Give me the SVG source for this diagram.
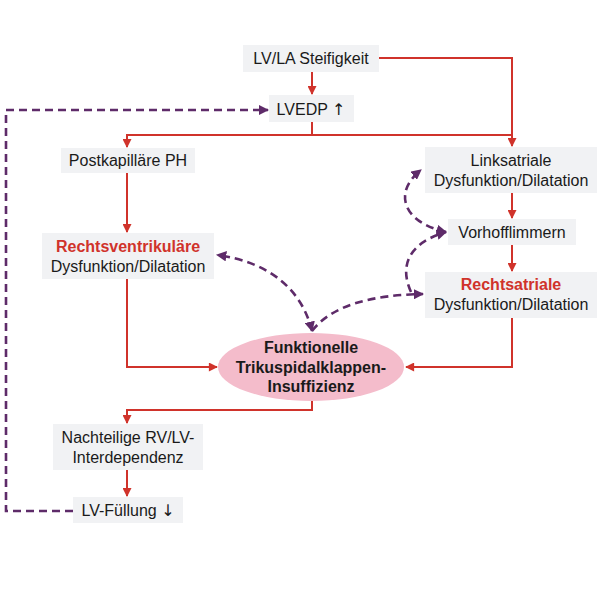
<svg xmlns="http://www.w3.org/2000/svg" width="600" height="600" viewBox="0 0 600 600">
<defs>
<style>
.box{fill:#f1f2f4;}
.t{font-family:"Liberation Sans",Arial,sans-serif;font-size:16px;fill:#1a1a1a;text-anchor:middle;}
.b{font-weight:bold;}
.r{fill:#d0332b;}
.arw{font-family:"DejaVu Sans",sans-serif;font-size:16px;fill:#1a1a1a;}
.red{fill:none;stroke:#d0332b;stroke-width:2;}
.pur{fill:none;stroke:#5e2b69;stroke-width:2.6;stroke-dasharray:8 5;}
</style>
<marker id="ar" viewBox="0 0 10 10" refX="9" refY="5" markerWidth="5" markerHeight="4.5" orient="auto-start-reverse" markerUnits="strokeWidth">
<path d="M0,0 L10,5 L0,10 z" fill="#d0332b"/>
</marker>
<marker id="ap" viewBox="0 0 10 10" refX="9" refY="5" markerWidth="4" markerHeight="4" orient="auto-start-reverse" markerUnits="strokeWidth">
<path d="M0,0 L10,5 L0,10 z" fill="#5e2b69"/>
</marker>
</defs>
<rect width="600" height="600" fill="#ffffff"/>
<g id="connectors">
<path class="red" d="M379,58 H512 V146" marker-end="url(#ar)"/>
<path class="red" d="M312,72 V94" marker-end="url(#ar)"/>
<path class="red" d="M312,122 V135 H127 V147" marker-end="url(#ar)"/>
<path class="red" d="M312,135 H512"/>
<path class="red" d="M127,172 V232" marker-end="url(#ar)"/>
<path class="red" d="M127,279 V367 H217" marker-end="url(#ar)"/>
<path class="red" d="M512,318 V367 H406" marker-end="url(#ar)"/>
<path class="red" d="M512,193 V218" marker-end="url(#ar)"/>
<path class="red" d="M512,245 V271" marker-end="url(#ar)"/>
<path class="red" d="M312,401 V410 H127 V423" marker-end="url(#ar)"/>
<path class="red" d="M127,470 V496" marker-end="url(#ar)"/>
<path class="pur" d="M73,511 H6 V110 H268" marker-end="url(#ap)"/>
<path class="pur" d="M312,331 C302,290 270,262 217,255" marker-start="url(#ap)" marker-end="url(#ap)"/>
<path class="pur" d="M312,331 C332,305 372,295 423,294" marker-end="url(#ap)"/>
<path class="pur" d="M446,232 C402,222 393,192 421,170" marker-start="url(#ap)" marker-end="url(#ap)"/>
<path class="pur" d="M411,292 C400,268 406,244 446,232" marker-end="url(#ap)"/>
</g>
<g id="lvla">
<rect class="box" x="243" y="45" width="136" height="27"/>
<text class="t" x="311" y="64">LV/LA Steifigkeit</text>
</g>
<g id="lvedp">
<rect class="box" x="269" y="95" width="85" height="27"/>
<text class="t" x="311" y="115">LVEDP <tspan class="arw">↑</tspan></text>
</g>
<g id="postkap">
<rect class="box" x="61" y="148" width="134" height="25"/>
<text class="t" x="128" y="166">Postkapilläre PH</text>
</g>
<g id="rv">
<rect class="box" x="42" y="233" width="172" height="46"/>
<text class="t b r" x="128" y="252">Rechtsventrikuläre</text>
<text class="t" x="128" y="272">Dysfunktion/Dilatation</text>
</g>
<g id="la">
<rect class="box" x="425" y="147" width="172" height="46"/>
<text class="t" x="511" y="166">Linksatriale</text>
<text class="t" x="511" y="186">Dysfunktion/Dilatation</text>
</g>
<g id="vhf">
<rect class="box" x="448" y="219" width="128" height="26"/>
<text class="t" x="512" y="238">Vorhofflimmern</text>
</g>
<g id="ra">
<rect class="box" x="425" y="272" width="172" height="46"/>
<text class="t b r" x="511" y="290">Rechtsatriale</text>
<text class="t" x="511" y="310">Dysfunktion/Dilatation</text>
</g>
<g id="tr">
<ellipse cx="311" cy="367" rx="93" ry="34" fill="#f4bccb"/>
<text class="t b" x="311" y="353">Funktionelle</text>
<text class="t b" x="311" y="373">Trikuspidalklappen-</text>
<text class="t b" x="311" y="392">Insuffizienz</text>
</g>
<g id="interdep">
<rect class="box" x="53" y="424" width="150" height="46"/>
<text class="t" x="128" y="443">Nachteilige RV/LV-</text>
<text class="t" x="128" y="463">Interdependenz</text>
</g>
<g id="lvfill">
<rect class="box" x="73" y="497" width="110" height="26"/>
<text class="t" x="128" y="516">LV-Füllung <tspan class="arw">↓</tspan></text>
</g>
</svg>
